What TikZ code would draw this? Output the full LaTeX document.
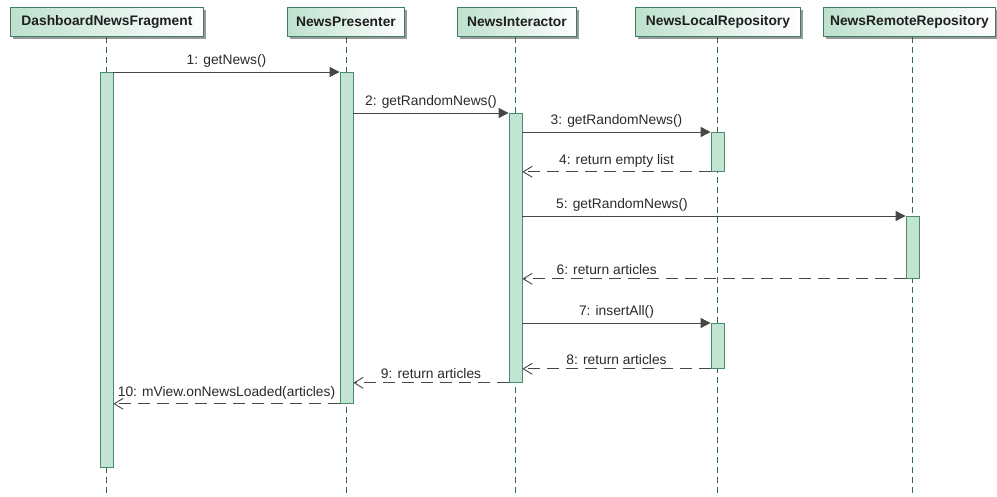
\documentclass[tikz,border=0pt]{standalone}
\usepackage{fontspec}
\setmainfont{Liberation Sans}
\usetikzlibrary{arrows.meta,shadows}

\definecolor{hdrgreen}{HTML}{BDE1CE}
\definecolor{hdrline}{HTML}{3F7D63}
\definecolor{barfill}{HTML}{C2E4D3}
\definecolor{barline}{HTML}{4C8A6E}
\definecolor{lifegreen}{HTML}{2E6A50}
\definecolor{msgline}{HTML}{474747}
\definecolor{msgtext}{HTML}{2A2A2A}

\begin{document}
\begin{tikzpicture}[x=1pt,y=-1pt,
  hdr/.style={draw=hdrline, line width=0.9pt, left color=hdrgreen, right color=white,
    general shadow={fill=black!40, shadow xshift=3pt, shadow yshift=-3pt},
    font=\fontsize{13.8}{16}\selectfont\bfseries, text=black!88,
    minimum height=29pt, inner sep=0pt, anchor=north west},
  actbar/.style={draw=barline, fill=barfill, line width=0.8pt, minimum width=13pt,
    inner sep=0pt, anchor=north},
  life/.style={draw=lifegreen, line width=0.9pt, dash pattern=on 6pt off 4pt},
  call/.style={draw=msgline, line width=0.9pt, -{Triangle[length=10pt,width=10pt]}},
  ret/.style={draw=msgline, line width=0.9pt, dash pattern=on 12pt off 7pt,
    -{Straight Barb[length=9pt,width=11pt,line width=0.9pt]}},
  lbl/.style={font=\fontsize{13.8}{16}\selectfont, text=msgtext, anchor=south,
    inner sep=0pt, yshift=4pt}]

\fill[white] (0,0) rectangle (997,497);
\useasboundingbox (0,0) rectangle (997,497);

% participant headers
\node[hdr, minimum width=193pt] (h1) at (10,7)  {DashboardNewsFragment};
\node[hdr, minimum width=117pt] (h2) at (287,7) {NewsPresenter};
\node[hdr, minimum width=119pt] (h3) at (457,7) {NewsInteractor};
\node[hdr, minimum width=165pt] (h4) at (635,7) {NewsLocalRepository};
\node[hdr, minimum width=172pt] (h5) at (823,7) {NewsRemoteRepository};

% lifeline ends
\coordinate (e1) at (106.5,497);
\coordinate (e2) at (346.5,497);
\coordinate (e3) at (515.5,497);
\coordinate (e4) at (717.5,497);
\coordinate (e5) at (912.5,497);

\draw[life] (h1.south -| e1) -- (e1);
\draw[life] (h2.south -| e2) -- (e2);
\draw[life] (h3.south -| e3) -- (e3);
\draw[life] (h4.south -| e4) -- (e4);
\draw[life] (h5.south -| e5) -- (e5);

% activation bars
\node[actbar, minimum height=395pt] (a1) at (106.5,72)  {};
\node[actbar, minimum height=331pt] (a2) at (346.5,72)  {};
\node[actbar, minimum height=269pt] (a3) at (515.5,113) {};
\node[actbar, minimum height=39pt]  (a4) at (717.5,132) {};
\node[actbar, minimum height=62pt]  (a5) at (912.5,216) {};
\node[actbar, minimum height=45pt]  (a6) at (717.5,323) {};

% messages
\draw[call] (a1.north east) -- (a2.north west)
  node[lbl, midway] {1: getNews()};
\draw[call] (a3.north west -| a2.east) -- (a3.north west)
  node[lbl, midway] {2: getRandomNews()};
\draw[call] (a4.north west -| a3.east) -- (a4.north west)
  node[lbl, midway] {3: getRandomNews()};
\draw[ret] (a4.south west) -- (a4.south west -| a3.east)
  node[lbl, midway] {4: return empty list};
\draw[call] (a5.north west -| a3.east) -- (a5.north west)
  node[lbl, pos=0.26] {5: getRandomNews()};
\draw[ret] (a5.south west) -- (a5.south west -| a3.east)
  node[lbl, pos=0.78] {6: return articles};
\draw[call] (a6.north west -| a3.east) -- (a6.north west)
  node[lbl, midway] {7: insertAll()};
\draw[ret] (a6.south west) -- (a6.south west -| a3.east)
  node[lbl, midway] {8: return articles};
\draw[ret] (a3.south west) -- (a3.south west -| a2.east)
  node[lbl, midway] {9: return articles};
\draw[ret] (a2.south west) -- (a2.south west -| a1.east)
  node[lbl, midway] {10: mView.onNewsLoaded(articles)};

\end{tikzpicture}
\end{document}
